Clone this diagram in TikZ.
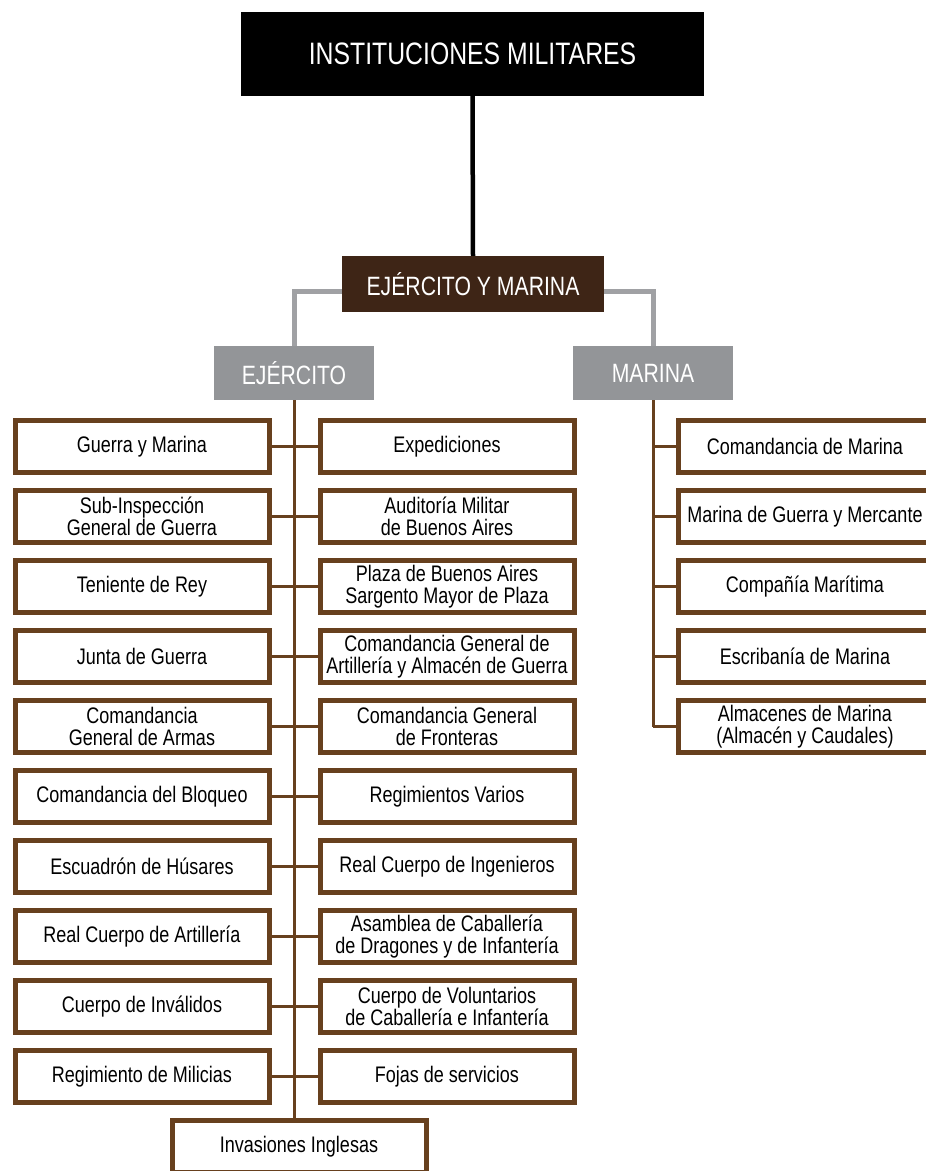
\documentclass[tikz,border=0pt]{standalone}
\usepackage{fontspec}
\setmainfont{Liberation Sans}[FakeStretch=0.8]
\usepackage{tikz}
\definecolor{cafe}{RGB}{103,64,30}
\definecolor{cafeosc}{RGB}{62,37,22}
\definecolor{gris}{RGB}{147,149,152}
\definecolor{grislinea}{RGB}{160,161,164}
\tikzset{
  caja/.style={draw=cafe, line width=5pt, fill=white, minimum width=254pt,
    minimum height=52pt, inner sep=0pt, align=center,
    font=\fontsize{22.5}{21.5}\selectfont},
  titulo/.style={fill=black, text=white, minimum width=463pt, minimum height=84pt,
    inner sep=0pt, font=\fontsize{31}{31}\selectfont},
  rama/.style={fill=gris, text=white, minimum width=160pt, minimum height=54pt,
    inner sep=0pt, font=\fontsize{26.5}{26.5}\selectfont},
  linea/.style={draw=cafe, line width=3pt}
}

\begin{document}
\begin{tikzpicture}[x=1pt,y=1pt,yscale=-1,xscale=1]
      \useasboundingbox (0,0) rectangle (926,1171);
      \node (inst) at (472.5,54) [titulo] {INSTITUCIONES MILITARES};
      \node (ym) at (473,284) [fill=cafeosc, text=white, minimum width=262pt,
            minimum height=56pt, inner sep=0pt, font=\fontsize{26.5}{26.5}\selectfont]
            {EJÉRCITO Y MARINA};
      \node (ejer) at (294,373) [rama] {EJÉRCITO};
      \node (mar)  at (653,373) [rama] {MARINA};
      \draw [line width=4.5pt] (inst.south) -- (ym.north);
      \draw [draw=grislinea, line width=5pt] ([yshift=7pt]ym.west) -| (ejer.north);
      \draw [draw=grislinea, line width=5pt] ([yshift=7pt]ym.east) -| (mar.north);
      % ejercito, columna izquierda
      \node (e1)  at (142,446.5)  [caja] {Guerra y Marina};
      \node (e2)  at (142,516.5)  [caja] {Sub-Inspección\\General de Guerra};
      \node (e3)  at (142,586.5)  [caja] {Teniente de Rey};
      \node (e4)  at (142,656.5)  [caja] {Junta de Guerra};
      \node (e5)  at (142,726.5)  [caja] {Comandancia\\General de Armas};
      \node (e6)  at (142,796.5)  [caja] {Comandancia del Bloqueo};
      \node (e7)  at (142,866.5)  [caja] {Escuadrón de Húsares};
      \node (e8)  at (142,936.5)  [caja] {Real Cuerpo de Artillería};
      \node (e9)  at (142,1006.5) [caja] {Cuerpo de Inválidos};
      \node (e10) at (142,1076.5) [caja] {Regimiento de Milicias};
      % ejercito, columna derecha
      \node (d1)  at (447,446.5)  [caja] {Expediciones};
      \node (d2)  at (447,516.5)  [caja] {Auditoría Militar\\de Buenos Aires};
      \node (d3)  at (447,586.5)  [caja] {Plaza de Buenos Aires\\Sargento Mayor de Plaza};
      \node (d4)  at (447,656.5)  [caja] {Comandancia General de\\Artillería y Almacén de Guerra};
      \node (d5)  at (447,726.5)  [caja] {Comandancia General\\de Fronteras};
      \node (d6)  at (447,796.5)  [caja] {Regimientos Varios};
      \node (d7)  at (447,866.5)  [caja] {Real Cuerpo de Ingenieros};
      \node (d8)  at (447,936.5)  [caja] {Asamblea de Caballería\\de Dragones y de Infantería};
      \node (d9)  at (447,1006.5) [caja] {Cuerpo de Voluntarios\\de Caballería e Infantería};
      \node (d10) at (447,1076.5) [caja] {Fojas de servicios};
      \node (inv) at (299,1146.5) [caja] {Invasiones Inglesas};
      \draw [linea] (ejer.south) -- (ejer.south |- inv.north);
      \foreach \i in {1,...,10}
        \draw [linea] (e\i.east) -- (d\i.west);
      % marina
      \node (m1) at (805,446.5) [caja] {Comandancia de Marina};
      \node (m2) at (805,516.5) [caja] {Marina de Guerra y Mercante};
      \node (m3) at (805,586.5) [caja] {Compañía Marítima};
      \node (m4) at (805,656.5) [caja] {Escribanía de Marina};
      \node (m5) at (805,726.5) [caja] {Almacenes de Marina\\(Almacén y Caudales)};
      \draw [linea] (mar.south) -- (mar.south |- m5.west);
      \foreach \i in {1,...,5}
        \draw [linea] (mar.south |- m\i.west) -- (m\i.west);
    \end{tikzpicture}
\end{document}
